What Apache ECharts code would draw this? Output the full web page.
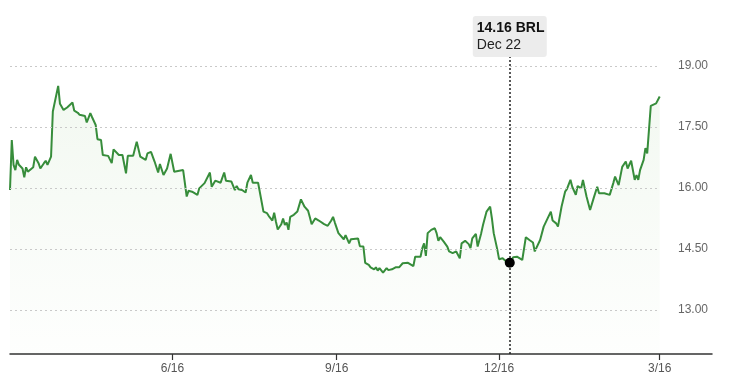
<!DOCTYPE html>
<html>
<head>
<meta charset="utf-8">
<script src="https://cdn.jsdelivr.net/npm/echarts@6/dist/echarts.min.js"></script>
<style>
html,body{margin:0;padding:0;background:#fff;}
#chart{width:730px;height:392px;}
</style>
</head>
<body>
<div id="chart"></div>
<script>
// ---- data ----
const dates = [
'2021-03-17','2021-03-18','2021-03-19','2021-03-20','2021-03-21','2021-03-22','2021-03-24','2021-03-25','2021-03-26','2021-03-27',
'2021-03-30','2021-03-31','2021-04-02','2021-04-03','2021-04-05','2021-04-06','2021-04-07','2021-04-09','2021-04-10','2021-04-13',
'2021-04-14','2021-04-15','2021-04-16','2021-04-18','2021-04-21','2021-04-22','2021-04-24','2021-04-25','2021-04-28','2021-04-29',
'2021-05-01','2021-05-02','2021-05-04','2021-05-05','2021-05-07','2021-05-08','2021-05-11','2021-05-12','2021-05-13','2021-05-14',
'2021-05-17','2021-05-19','2021-05-21','2021-05-22','2021-05-25','2021-05-27','2021-05-28','2021-05-29','2021-06-01','2021-06-02',
'2021-06-03','2021-06-04','2021-06-06','2021-06-08','2021-06-09','2021-06-10','2021-06-11','2021-06-13','2021-06-15','2021-06-17',
'2021-06-22','2021-06-24','2021-06-25','2021-06-27','2021-06-30','2021-07-01','2021-07-04','2021-07-07','2021-07-08','2021-07-10',
'2021-07-13','2021-07-15','2021-07-16','2021-07-19','2021-07-21','2021-07-22','2021-07-23','2021-07-25','2021-07-27','2021-07-28',
'2021-07-30','2021-07-31','2021-08-03','2021-08-04','2021-08-06','2021-08-08','2021-08-09','2021-08-11','2021-08-12','2021-08-13',
'2021-08-14','2021-08-16','2021-08-17','2021-08-18','2021-08-19','2021-08-20','2021-08-21','2021-08-23','2021-08-25','2021-08-27',
'2021-08-29','2021-08-31','2021-09-01','2021-09-02','2021-09-04','2021-09-06','2021-09-09','2021-09-10','2021-09-11','2021-09-13',
'2021-09-14','2021-09-15','2021-09-17','2021-09-18','2021-09-20','2021-09-21','2021-09-23','2021-09-24','2021-09-25','2021-09-28',
'2021-09-29','2021-10-01','2021-10-02','2021-10-04','2021-10-05','2021-10-07','2021-10-08','2021-10-09','2021-10-10','2021-10-12',
'2021-10-14','2021-10-15','2021-10-17','2021-10-19','2021-10-21','2021-10-22','2021-10-23','2021-10-24','2021-10-26','2021-10-27',
'2021-10-29','2021-10-30','2021-10-31','2021-11-02','2021-11-03','2021-11-04','2021-11-05','2021-11-06','2021-11-08','2021-11-10',
'2021-11-11','2021-11-12','2021-11-13','2021-11-15','2021-11-17','2021-11-18','2021-11-20','2021-11-22','2021-11-23','2021-11-24',
'2021-11-25','2021-11-27','2021-11-29','2021-11-30','2021-12-01','2021-12-03','2021-12-04','2021-12-06','2021-12-07','2021-12-09',
'2021-12-10','2021-12-11','2021-12-12','2021-12-13','2021-12-15','2021-12-16','2021-12-18','2021-12-20','2021-12-22','2021-12-23',
'2021-12-24','2021-12-26','2021-12-27','2021-12-29','2021-12-31','2022-01-02','2022-01-04','2022-01-05','2022-01-08','2022-01-10',
'2022-01-11','2022-01-14','2022-01-15','2022-01-17','2022-01-18','2022-01-20','2022-01-22','2022-01-23','2022-01-25','2022-01-26',
'2022-01-28','2022-01-29','2022-01-31','2022-02-01','2022-02-03','2022-02-05','2022-02-07','2022-02-08','2022-02-09','2022-02-10',
'2022-02-13','2022-02-16','2022-02-18','2022-02-19','2022-02-21','2022-02-23','2022-02-25','2022-02-26','2022-02-28','2022-03-02',
'2022-03-03','2022-03-04','2022-03-05','2022-03-07','2022-03-08','2022-03-09','2022-03-11','2022-03-14','2022-03-16'
];
const prices = [
15.95,17.18,16.57,16.44,16.69,16.57,16.48,16.26,16.51,16.40,
16.51,16.77,16.61,16.48,16.61,16.67,16.57,16.77,17.88,18.51,
18.07,18.04,17.92,17.98,18.10,17.90,17.85,17.80,17.77,17.61,
17.84,17.74,17.55,17.20,17.18,16.81,16.79,16.81,16.61,16.95,
16.81,16.81,16.36,16.79,16.79,17.14,17.16,16.77,16.69,16.85,
16.81,16.89,16.65,16.38,16.59,16.61,16.32,16.48,16.84,16.40,
16.44,15.79,15.93,15.91,15.83,15.99,16.12,16.38,16.03,16.18,
16.13,16.38,16.18,16.16,15.95,16.05,15.97,15.95,15.89,16.13,
16.32,16.13,16.13,16.12,15.42,15.38,15.31,15.20,15.39,15.17,
14.98,15.11,15.25,15.09,15.15,14.97,15.29,15.34,15.42,15.72,
15.54,15.44,15.28,15.11,15.25,15.20,15.11,15.15,15.07,15.20,
15.29,15.15,14.89,14.93,14.74,14.84,14.64,14.74,14.72,14.76,
14.57,14.56,14.16,14.11,14.05,14.00,14.05,13.97,14.03,13.92,
14.03,13.98,14.00,14.05,14.05,14.08,14.15,14.11,14.16,14.13,
14.08,14.31,14.33,14.31,14.52,14.64,14.33,14.89,14.97,15.01,
14.89,14.70,14.79,14.68,14.56,14.44,14.40,14.44,14.48,14.27,
14.64,14.70,14.62,14.52,14.76,14.87,14.56,14.89,15.09,15.42,
15.38,15.54,15.25,14.89,14.49,14.25,14.27,14.19,14.16,14.23,
14.30,14.31,14.30,14.23,14.79,14.72,14.66,14.44,14.72,15.05,
15.09,15.42,15.20,15.13,15.05,15.54,15.91,15.97,16.20,16.03,
15.83,16.05,15.99,16.20,15.79,15.46,15.75,15.79,16.03,15.87,
15.87,15.83,16.12,16.28,16.07,16.52,16.65,16.48,16.67,16.20,
16.32,16.20,16.44,16.69,16.98,16.85,18.02,18.08,18.25
];
const yTicks = [13.00, 14.50, 16.00, 17.50, 19.00];
const xTickDates = ['2021-06-16', '2021-09-16', '2021-12-16', '2022-03-16'];
const highlightDate = '2021-12-22';
const currency = 'BRL';
const monthNames = ['Jan','Feb','Mar','Apr','May','Jun','Jul','Aug','Sep','Oct','Nov','Dec'];

// ---- helpers ----
function parseDate(s) {
  const p = s.split('-');
  return new Date(+p[0], +p[1] - 1, +p[2]).getTime();
}
const seriesData = dates.map((d, i) => [parseDate(d), prices[i]]);
const hiIdx = dates.indexOf(highlightDate);
const hiVal = prices[hiIdx];
const hiDateObj = new Date(parseDate(highlightDate));
const hiDateLabel = monthNames[hiDateObj.getMonth()] + ' ' + hiDateObj.getDate();

const xStart = parseDate(dates[0]);
const xEnd = parseDate(dates[dates.length - 1]);
const DAY = 86400000;

const gridStyle = { color: '#c9c9c9', type: [2, 3], width: 1 };
const gridLines = yTicks.map(v => [
  { coord: [xStart, v], lineStyle: gridStyle, label: { show: false } },
  { coord: [xEnd, v] }
]);

const chart = echarts.init(document.getElementById('chart'), null, { renderer: 'canvas' });
chart.setOption({
  animation: false,
  backgroundColor: '#ffffff',
  textStyle: { fontFamily: 'Liberation Sans, Arial, sans-serif' },
  grid: { left: 10, right: 18, top: 57, bottom: 38, containLabel: false },
  xAxis: {
    type: 'value',
    scale: true,
    min: xStart,
    max: xStart + 393.3 * DAY,
    axisLine: { show: true, lineStyle: { color: '#333', width: 1.5 } },
    axisTick: { show: true, length: 6, lineStyle: { color: '#333', width: 1.2 },
                customValues: xTickDates.map(parseDate) },
    axisLabel: {
      color: '#555', fontSize: 12, margin: 9,
      customValues: xTickDates.map(parseDate),
      formatter: function (v) { const d = new Date(v); return (d.getMonth() + 1) + '/' + d.getDate(); }
    },
    splitLine: { show: false }
  },
  yAxis: {
    type: 'value',
    position: 'right',
    min: 11.918,
    max: 19.221,
    axisLine: { show: false },
    axisTick: { show: false, customValues: yTicks },
    axisLabel: {
      inside: true, margin: 4, color: '#666', fontSize: 12,
      customValues: yTicks,
      formatter: function (v) { return Number(v).toFixed(2); }
    },
    splitLine: { show: false }
  },
  series: [{
    type: 'line',
    data: seriesData,
    showSymbol: false,
    symbol: 'none',
    lineStyle: { color: '#378d3b', width: 2 },
    itemStyle: { color: '#378d3b' },
    areaStyle: {
      color: new echarts.graphic.LinearGradient(0, 0, 0, 1, [
        { offset: 0, color: 'rgba(90,170,70,0.11)' },
        { offset: 1, color: 'rgba(90,170,70,0.01)' }
      ])
    },
    markLine: {
      silent: true,
      symbol: ['none', 'none'],
      animation: false,
      data: gridLines.concat([{
        xAxis: parseDate(highlightDate),
        lineStyle: { color: '#222', type: [2, 2], width: 1.5 },
        label: {
          show: true,
          position: 'end',
          distance: 0,
          formatter: '{a|' + hiVal.toFixed(2) + ' ' + currency + '}\n{b|' + hiDateLabel + '}',
          backgroundColor: '#ececec',
          borderRadius: 3,
          padding: [4, 4, 3, 4],
          rich: {
            a: { fontSize: 14, fontWeight: 'bold', color: '#111', lineHeight: 17, align: 'left', width: 66 },
            b: { fontSize: 14, color: '#222', lineHeight: 17, align: 'left', width: 66 }
          }
        }
      }])
    },
    markPoint: {
      silent: true,
      animation: false,
      data: [{
        coord: [parseDate(highlightDate), hiVal],
        symbol: 'circle',
        symbolSize: 10,
        itemStyle: { color: '#000' },
        label: { show: false }
      }]
    }
  }]
});
</script>
</body>
</html>
